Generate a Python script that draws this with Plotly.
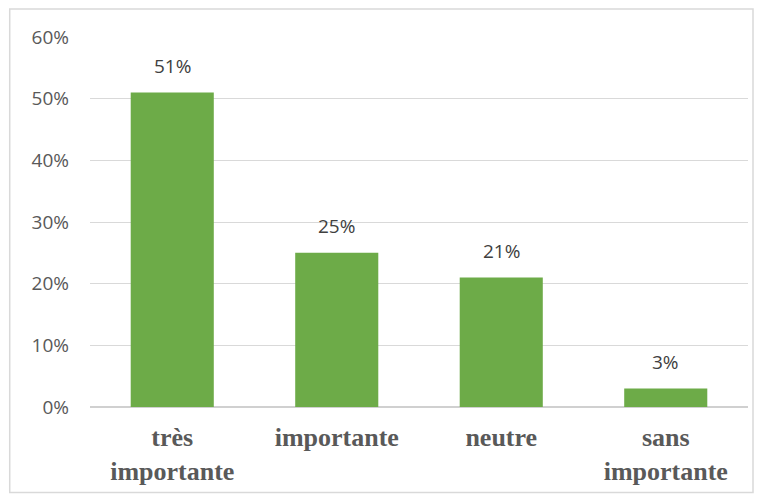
import plotly.graph_objects as go

categories = ["très<br>importante", "importante", "neutre", "sans<br>importante"]
values = [0.51, 0.25, 0.21, 0.03]
labels = ["51%", "25%", "21%", "3%"]
y_ticks = [0, 0.1, 0.2, 0.3, 0.4, 0.5, 0.6]

fig = go.Figure()
fig.add_trace(
    go.Bar(
        x=categories,
        y=values,
        marker=dict(color="#6dab48", line=dict(width=0)),
        hoverinfo="x+y",
    )
)

for cat, val, lab in zip(categories, values, labels):
    fig.add_annotation(
        x=cat, y=val, text=lab, showarrow=False,
        yanchor="bottom", yshift=12,
        font=dict(family="Open Sans", size=19, color="#404040"),
    )

# chart frame
fig.add_shape(
    type="rect", xref="paper", yref="paper",
    x0=-0.122, x1=1.0076, y0=-0.231, y1=1.076,
    line=dict(color="#d9d9d9", width=1.5), layer="below",
)

# page body has an 8px margin, so the figure is sized to fit inside the window
fig.update_layout(
    width=755,
    height=490,
    margin=dict(l=82, r=15, t=29, b=89),
    plot_bgcolor="white",
    paper_bgcolor="white",
    bargap=0.495,
    showlegend=False,
)
fig.update_xaxes(
    showgrid=False,
    showline=False,
    ticks="",
    tickfont=dict(family="Liberation Serif", size=26, color="#595959", weight="bold"),
    ticklabelstandoff=12,
)
fig.update_yaxes(
    range=[0, 0.6],
    tickvals=y_ticks,
    tickformat=".0%",
    showgrid=True,
    gridcolor="#d9d9d9",
    gridwidth=1,
    zeroline=True,
    zerolinecolor="#d0d0d0",
    zerolinewidth=2,
    tickfont=dict(family="Open Sans", size=19, color="#595959"),
    ticklabelstandoff=20,
)

fig.write_html("out.html")
